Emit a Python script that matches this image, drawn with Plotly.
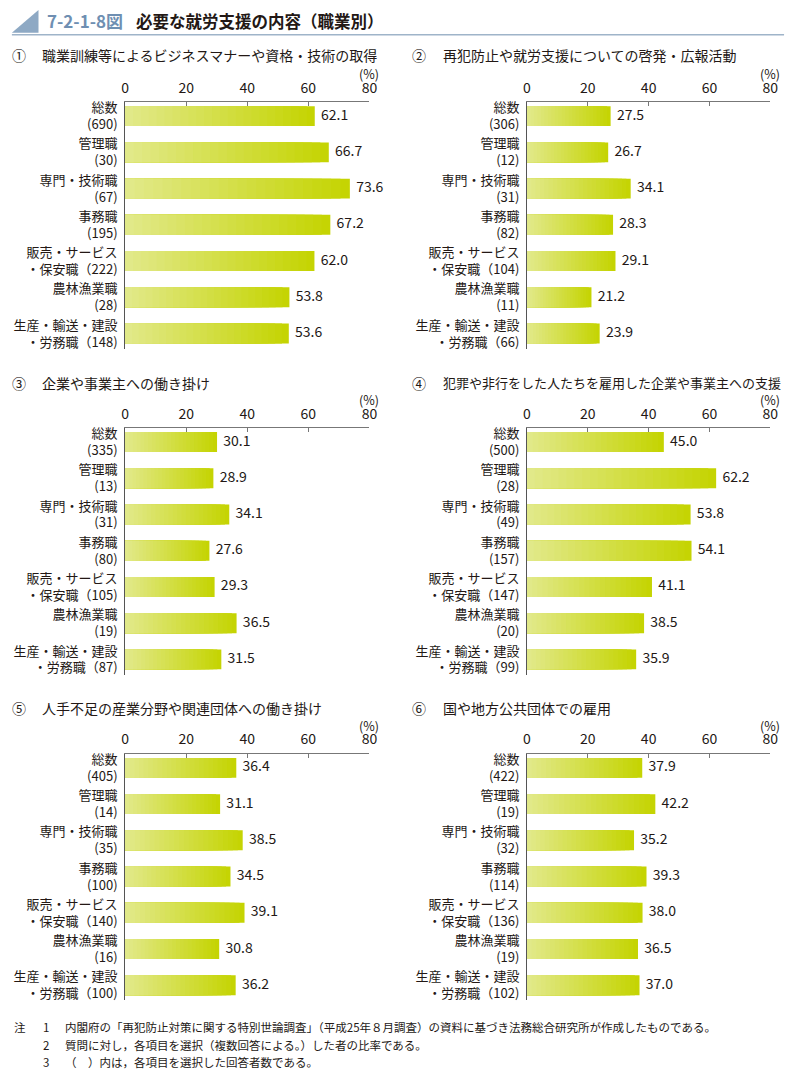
import plotly.graph_objects as go

W, H = 796, 1075
FONT = "Noto Sans CJK JP"
TXT = "#231815"

occupations = ["総数", "管理職", "専門・技術職", "事務職", "販売・サービス", "農林漁業職", "生産・輸送・建設"]
second_prefix = ["", "", "", "", "・保安職", "", "・労務職"]

titles = [
    "職業訓練等によるビジネスマナーや資格・技術の取得",
    "再犯防止や就労支援についての啓発・広報活動",
    "企業や事業主への働き掛け",
    "犯罪や非行をした人たちを雇用した企業や事業主への支援",
    "人手不足の産業分野や関連団体への働き掛け",
    "国や地方公共団体での雇用",
]
title_sizes = [14, 14, 14, 13, 14, 14]
marks = ["①", "②", "③", "④", "⑤", "⑥"]

n1 = [690, 30, 67, 195, 222, 28, 148]
v1 = [62.1, 66.7, 73.6, 67.2, 62.0, 53.8, 53.6]
n2 = [306, 12, 31, 82, 104, 11, 66]
v2 = [27.5, 26.7, 34.1, 28.3, 29.1, 21.2, 23.9]
n3 = [335, 13, 31, 80, 105, 19, 87]
v3 = [30.1, 28.9, 34.1, 27.6, 29.3, 36.5, 31.5]
n4 = [500, 28, 49, 157, 147, 20, 99]
v4 = [45.0, 62.2, 53.8, 54.1, 41.1, 38.5, 35.9]
n5 = [405, 14, 35, 100, 140, 16, 100]
v5 = [36.4, 31.1, 38.5, 34.5, 39.1, 30.8, 36.2]
n6 = [422, 19, 32, 114, 136, 19, 102]
v6 = [37.9, 42.2, 35.2, 39.3, 38.0, 36.5, 37.0]

counts = [n1, n2, n3, n4, n5, n6]
values = [v1, v2, v3, v4, v5, v6]

x_ticks = [0, 20, 40, 60, 80]

notes = [
    ("注", "1", "内閣府の「再犯防止対策に関する特別世論調査」（平成25年８月調査）の資料に基づき法務総合研究所が作成したものである。"),
    ("", "2", "質問に対し，各項目を選択（複数回答による。）した者の比率である。"),
    ("", "3", "（　）内は，各項目を選択した回答者数である。"),
]

# layout geometry (pixels)
col_x = [(123, 371), (531, 778)]
row_y = [(98, 346), (426, 674), (754, 1002)]
title_y = [50, 380, 708]
mark_x = [15, 421]
title_x = [37, 444]

def px_x(p):
    return p / W

def px_y(p):
    return 1 - p / H

# gradient colours (left light -> right saturated)
NSEG = 24
c_left = (226, 233, 140)
c_right = (196, 212, 0)
def seg_color(t):
    r = round(c_left[0] + (c_right[0] - c_left[0]) * t)
    g = round(c_left[1] + (c_right[1] - c_left[1]) * t)
    b = round(c_left[2] + (c_right[2] - c_left[2]) * t)
    return f"rgb({r},{g},{b})"

fig = go.Figure()
layout_axes = {}
annotations = []

for i in range(6):
    row, col = divmod(i, 2)
    ax = "" if i == 0 else str(i + 1)
    xref, yref = "x" + ax, "y" + ax
    vals = values[i]
    ns = counts[i]
    idx = list(range(len(vals)))
    labels = []
    for occ, pre, n in zip(occupations, second_prefix, ns):
        if pre:
            labels.append(f"{occ}<br>{pre}（{n})")
        else:
            labels.append(f"{occ}<br>({n})")

    # gradient by overlaying progressively shorter bars
    for k in range(NSEG):
        frac = (NSEG - k) / NSEG
        t = (NSEG - k - 0.5) / NSEG
        fig.add_trace(go.Bar(
            x=[v * frac for v in vals], y=idx, orientation="h",
            width=0.55, marker=dict(color=seg_color(t), line=dict(width=0)),
            xaxis=xref, yaxis=yref, showlegend=False, hoverinfo="skip",
        ))
    fig.add_trace(go.Scatter(
        x=vals, y=idx, mode="text", text=[f"  {v:.1f}" for v in vals],
        textposition="middle right", textfont=dict(size=14, color=TXT, family=FONT),
        xaxis=xref, yaxis=yref, showlegend=False, cliponaxis=False, hoverinfo="skip",
    ))

    x0, x1 = col_x[col]
    yt, yb = row_y[row]
    layout_axes["xaxis" + ax] = dict(
        domain=[px_x(x0), px_x(x1)], range=[0, 80], side="top", anchor=yref,
        tickvals=x_ticks, ticktext=[str(t) for t in x_ticks],
        ticks="inside", ticklen=4, tickcolor="#777", showline=True, linecolor="#777",
        linewidth=1, showgrid=False, zeroline=False, ticklabelstandoff=3,
        tickfont=dict(size=14, color=TXT, family=FONT), fixedrange=True,
    )
    layout_axes["yaxis" + ax] = dict(
        domain=[px_y(yb), px_y(yt)], range=[6.42, -0.38], anchor=xref,
        tickvals=idx, ticktext=labels, ticks="", showline=True, linecolor="#555",
        linewidth=1, showgrid=False, zeroline=False, ticklabelstandoff=4,
        tickfont=dict(size=13, color=TXT, family=FONT), fixedrange=True,
    )

    # panel title
    annotations.append(dict(x=px_x(mark_x[col]), y=px_y(title_y[row]), xref="paper", yref="paper",
                            text=marks[i], showarrow=False, xanchor="center", yanchor="middle",
                            font=dict(size=14, color=TXT, family=FONT)))
    annotations.append(dict(x=px_x(title_x[col]), y=px_y(title_y[row]), xref="paper", yref="paper",
                            text=titles[i], showarrow=False, xanchor="left", yanchor="middle",
                            font=dict(size=title_sizes[i], color=TXT, family=FONT)))
    # unit label
    annotations.append(dict(x=px_x(x1), y=px_y(yt - 29), xref="paper", yref="paper",
                            text="(%)", showarrow=False, xanchor="center", yanchor="middle",
                            font=dict(size=12.5, color=TXT, family=FONT)))

# header
annotations.append(dict(x=px_x(42), y=px_y(16), xref="paper", yref="paper",
                        text="<b>7-2-1-8図</b>", showarrow=False, xanchor="left", yanchor="middle",
                        font=dict(size=17, color="#6f8fb2", family=FONT)))
annotations.append(dict(x=px_x(132), y=px_y(16), xref="paper", yref="paper",
                        text="<b>必要な就労支援の内容（職業別）</b>", showarrow=False, xanchor="left",
                        yanchor="middle", font=dict(size=16.5, color=TXT, family=FONT)))

# notes
note_y = [1029, 1047, 1064]
for (a, b, c), yy in zip(notes, note_y):
    if a:
        annotations.append(dict(x=px_x(8), y=px_y(yy), xref="paper", yref="paper", text=a,
                                showarrow=False, xanchor="left", yanchor="middle",
                                font=dict(size=11.5, color=TXT, family=FONT)))
    annotations.append(dict(x=px_x(38), y=px_y(yy), xref="paper", yref="paper", text=b,
                            showarrow=False, xanchor="left", yanchor="middle",
                            font=dict(size=11.5, color=TXT, family=FONT)))
    annotations.append(dict(x=px_x(60), y=px_y(yy), xref="paper", yref="paper", text=c,
                            showarrow=False, xanchor="left", yanchor="middle",
                            font=dict(size=11.5, color=TXT, family=FONT)))

shapes = [
    dict(type="path", xref="paper", yref="paper",
         path=f"M {px_x(8)} {px_y(28)} L {px_x(35)} {px_y(5)} L {px_x(35)} {px_y(28)} Z",
         fillcolor="#8ea9c4", line=dict(width=0)),
    dict(type="line", xref="paper", yref="paper", x0=px_x(8), x1=px_x(792),
         y0=px_y(30), y1=px_y(30), line=dict(color="#9fb4c9", width=1.5)),
]

fig.update_layout(
    width=W, height=H, margin=dict(l=0, r=0, t=0, b=0),
    paper_bgcolor="white", plot_bgcolor="white",
    barmode="overlay", showlegend=False,
    font=dict(family=FONT, color=TXT),
    annotations=annotations, shapes=shapes,
    **layout_axes,
)

fig.write_html("out.html")
